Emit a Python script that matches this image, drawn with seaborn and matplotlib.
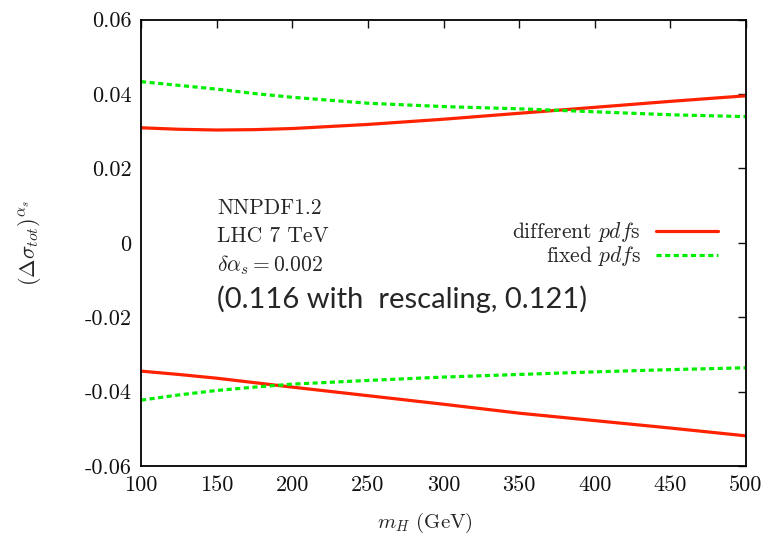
import numpy as np
import pandas as pd
import matplotlib
matplotlib.use("Agg")
import matplotlib.pyplot as plt
import seaborn as sns
from matplotlib.ticker import FuncFormatter, MultipleLocator

# valores
m_h = [100, 125, 150, 175, 200, 250, 300, 350, 400, 450, 500]
dif_sup = [0.0309, 0.0305, 0.0303, 0.0304, 0.0307, 0.0318, 0.0332, 0.0348, 0.0364, 0.0380, 0.0395]
dif_inf = [-0.0345, -0.0354, -0.0364, -0.0376, -0.0388, -0.0411, -0.0434, -0.0458, -0.0478, -0.0498, -0.0519]
fij_sup = [0.0433, 0.0423, 0.0413, 0.0401, 0.0391, 0.0375, 0.0366, 0.0360, 0.0352, 0.0344, 0.0339]
fij_inf = [-0.0423, -0.0409, -0.0397, -0.0388, -0.0380, -0.0370, -0.0361, -0.0354, -0.0347, -0.0341, -0.0336]

sns.set_theme(style="white")
plt.rcParams['font.family'] = ['cmr10', 'DejaVu Serif']
plt.rcParams['mathtext.fontset'] = 'cm'
plt.rcParams['axes.unicode_minus'] = False

fig = plt.figure(figsize=(7.61, 5.36), dpi=100)
ax = fig.add_axes([0.1853, 0.1306, 0.795, 0.8330])

rojo = '#ff2200'
verde = '#00ee00'

df = pd.DataFrame({'m_h': m_h, 'dif_sup': dif_sup, 'dif_inf': dif_inf,
                   'fij_sup': fij_sup, 'fij_inf': fij_inf})

sns.lineplot(x='m_h', y='dif_sup', data=df, ax=ax, color=rojo, lw=2.3,
             label=r'different $pdf$s')
sns.lineplot(x='m_h', y='dif_inf', data=df, ax=ax, color=rojo, lw=2.3)
sns.lineplot(x='m_h', y='fij_sup', data=df, ax=ax, color=verde, lw=2.3,
             label=r'fixed $pdf$s')
sns.lineplot(x='m_h', y='fij_inf', data=df, ax=ax, color=verde, lw=2.3)
for ln in ax.lines[2:]:
    ln.set_linestyle((0, (1.6, 1.1)))

ax.set_xlim(100, 500)
ax.set_ylim(-0.06, 0.06)
ax.xaxis.set_major_locator(MultipleLocator(50))
ax.yaxis.set_major_locator(MultipleLocator(0.02))
ax.yaxis.set_major_formatter(FuncFormatter(lambda v, p: '0' if abs(v) < 1e-9 else f'{v:.2f}'))
ax.tick_params(direction='in', length=6, width=1, top=True, right=True,
               labelsize=16, pad=7, colors='#111111')
for s in ax.spines.values():
    s.set_color('black')
    s.set_linewidth(1.3)

ax.set_xlabel(r'$m_H$ (GeV)', fontsize=15)
ax.xaxis.set_label_coords(0.469, -0.1)
ax.set_ylabel(r'$(\Delta\sigma_{tot})^{\alpha_s}$', fontsize=16)
ax.yaxis.set_label_coords(-0.162, 0.5)

ax.text(0.126, 0.578, 'NNPDF1.2', transform=ax.transAxes, fontsize=15.5, va='center')
ax.text(0.126, 0.515, 'LHC 7 TeV', transform=ax.transAxes, fontsize=15.5, va='center')
ax.text(0.126, 0.450, r'$\delta\alpha_s = 0.002$', transform=ax.transAxes, fontsize=15.5, va='center')
ax.text(0.126, 0.373, '(0.116 with  rescaling, 0.121)', transform=ax.transAxes,
        fontsize=21, va='center', family=['Lato', 'DejaVu Sans'])

ax.legend(loc='center right', bbox_to_anchor=(0.968, 0.497), frameon=False,
          markerfirst=False, fontsize=15.5, handlelength=2.9, handletextpad=0.7,
          labelspacing=0.0, borderaxespad=0)

fig.savefig('out.png', dpi=100)
